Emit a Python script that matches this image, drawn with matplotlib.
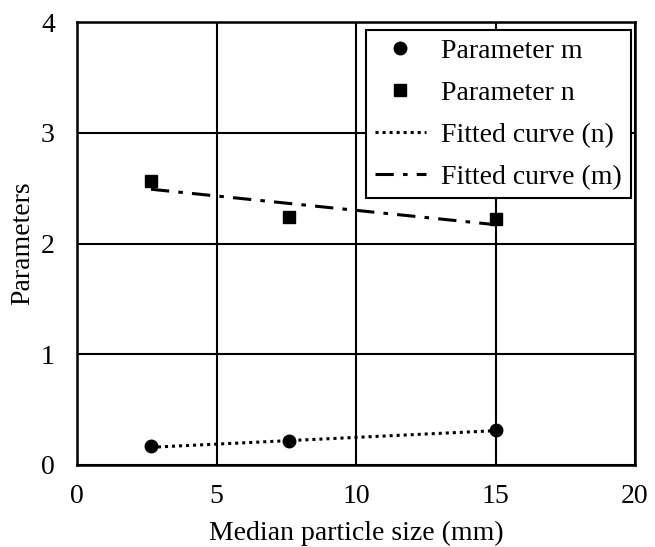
import matplotlib
matplotlib.use("Agg")
import matplotlib.pyplot as plt

# data
size_mm = [2.65, 7.6, 15.0]
param_m = [0.17, 0.22, 0.32]
param_n = [2.56, 2.24, 2.22]
fit_m_x = [2.65, 15.0]
fit_m_y = [0.16, 0.31]
fit_n_x = [2.65, 15.0]
fit_n_y = [2.49, 2.17]

plt.rcParams["font.family"] = ["Liberation Serif", "DejaVu Serif"]
plt.rcParams["font.size"] = 20

fig = plt.figure(figsize=(6.55, 5.47), dpi=100)
ax = fig.add_axes([77 / 655, 82 / 547, 558 / 655, 443 / 547])

ax.plot(size_mm, param_m, "o", color="black", markersize=9, label="Parameter m", zorder=4)
ax.plot(size_mm, param_n, "s", color="black", markersize=9, label="Parameter n", zorder=4)
ax.plot(fit_m_x, fit_m_y, color="black", linestyle=(0, (1, 1.3)), linewidth=2.2,
        label="Fitted curve (n)", zorder=3)
ax.plot(fit_n_x, fit_n_y, color="black", linestyle=(0, (6, 3, 1.5, 3)), linewidth=2.2,
        label="Fitted curve (m)", zorder=3)

ax.set_xlim(0, 20)
ax.set_ylim(0, 4)
ax.set_xticks([0, 5, 10, 15, 20])
ax.set_yticks([0, 1, 2, 3, 4])
ax.grid(True, color="black", linewidth=1.5)
ax.set_axisbelow(True)
ax.tick_params(length=0)
ax.tick_params(axis="x", pad=14)
ax.tick_params(axis="y", pad=16)
for s in ax.spines.values():
    s.set_linewidth(1.8)

ax.set_xlabel("Median particle size (mm)", labelpad=8)
ax.set_ylabel("Parameters", labelpad=4)

leg = ax.legend(loc="upper right", bbox_to_anchor=(0.992, 0.982), fancybox=False,
                edgecolor="black", framealpha=1, handlelength=1.85, handletextpad=0.55,
                labelspacing=0.6, borderpad=0.3, borderaxespad=0.0)
leg.get_frame().set_linewidth(1.5)

fig.savefig("out.png", dpi=100)
